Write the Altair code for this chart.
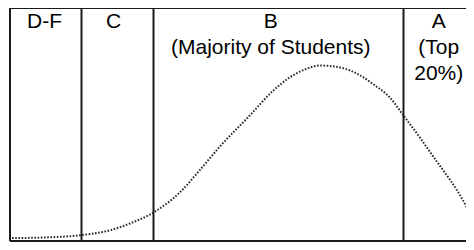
import altair as alt
import pandas as pd

# Score axis (0-100) and relative frequency (0-100)
curve_score = [0.43, 6.47, 15.30, 21.55, 25.86, 30.82, 36.64, 40.95, 45.26, 51.72,
               56.68, 60.34, 63.58, 66.81, 71.12, 75.43, 78.23, 81.90, 84.91, 88.36,
               91.16, 93.75, 96.34, 98.28, 100.0]
curve_freq = [1.26, 1.46, 2.51, 4.60, 7.53, 12.13, 20.92, 30.54, 40.59, 53.97,
              64.44, 70.29, 73.64, 75.31, 74.48, 71.13, 67.36, 61.51, 53.56, 44.35,
              36.40, 29.29, 21.76, 15.06, 7.95]

grade_cutoffs = [15.41, 30.93, 84.81]

label_text = ["D-F", "C", "B\n(Majority of Students)", "A\n(Top\n20%)"]
label_x = [7.44, 22.31, 56.2, 92.4]
label_y = [91.4, 91.4, 91.4, 91.4]

curve_df = pd.DataFrame({"score": curve_score, "freq": curve_freq})
cut_df = pd.DataFrame({"score": grade_cutoffs})
lab_df = pd.DataFrame({"text": label_text, "score": label_x, "freq": label_y})

# visible part of the score range (the picture is cropped on the right)
xs = alt.Scale(domain=[0, 98.28], nice=False, zero=False)
ys = alt.Scale(domain=[0, 100], nice=False, zero=False)

line_color = "#1a1a1a"

curve = alt.Chart(curve_df).mark_line(
    color="#2a2a2a", strokeWidth=2, strokeDash=[1.6, 1.6], interpolate="monotone",
    clip=False
).encode(
    x=alt.X("score:Q", scale=xs, axis=None),
    y=alt.Y("freq:Q", scale=ys, axis=None),
)

cuts = alt.Chart(cut_df).mark_rule(color=line_color, strokeWidth=2).encode(
    x=alt.X("score:Q", scale=xs, axis=None),
)

left_border = alt.Chart(pd.DataFrame({"score": [0]})).mark_rule(
    color=line_color, strokeWidth=2
).encode(x=alt.X("score:Q", scale=xs, axis=None))

hborders = alt.Chart(pd.DataFrame({"freq": [0, 100]})).mark_rule(
    color=line_color, strokeWidth=2
).encode(y=alt.Y("freq:Q", scale=ys, axis=None))

labels = alt.Chart(lab_df).mark_text(
    font="Liberation Sans", fontSize=21, color="#000000", align="center",
    baseline="alphabetic", lineBreak="\n", lineHeight=26
).encode(
    x=alt.X("score:Q", scale=xs, axis=None),
    y=alt.Y("freq:Q", scale=ys, axis=None),
    text="text:N",
)

chart = alt.layer(curve, cuts, left_border, hborders, labels).properties(
    width=456, height=233,
    padding={"left": 2, "top": 0, "right": 0, "bottom": 1},
    autosize=alt.AutoSizeParams(type="none"),
    background="white",
).configure_view(stroke=None)

chart.save("out.html", embed_options={"renderer": "svg", "actions": False})
